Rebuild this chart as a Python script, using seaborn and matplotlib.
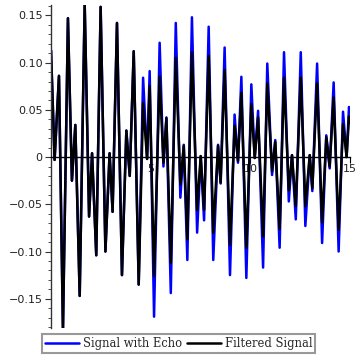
import matplotlib
matplotlib.use("Agg")
import matplotlib.pyplot as plt
import seaborn as sns
import pandas as pd
from matplotlib.ticker import FixedLocator, FuncFormatter, MultipleLocator

# Extrema (time, value)
t = [0.00, 0.18, 0.40, 0.60, 0.85, 1.05, 1.22, 1.44, 1.69, 1.91, 2.06, 2.27,
     2.49, 2.73, 2.94, 3.09, 3.31, 3.56, 3.78, 3.95, 4.15, 4.40, 4.62, 4.82,
     4.95, 5.17, 5.45, 5.64, 5.79, 6.01, 6.26, 6.49, 6.66, 6.84, 7.07, 7.33,
     7.51, 7.68, 7.91, 8.14, 8.38, 8.51, 8.71, 8.98, 9.21, 9.38, 9.55, 9.80,
     10.05, 10.22, 10.39, 10.64, 10.85, 11.09, 11.25, 11.47, 11.69, 11.93,
     12.09, 12.28, 12.53, 12.76, 12.98, 13.11, 13.35, 13.60, 13.81, 13.98,
     14.18, 14.43, 14.65, 14.83, 14.95, 15.00]

signal_with_echo = [0.113, -0.003, 0.086, -0.184, 0.147, -0.025, 0.034, -0.147,
                    0.162, -0.063, 0.004, -0.104, 0.159, -0.100, 0.004, -0.058,
                    0.142, -0.125, 0.028, -0.020, 0.112, -0.135, 0.084, -0.002,
                    0.091, -0.169, 0.121, -0.010, 0.042, -0.144, 0.142, -0.043,
                    0.013, -0.109, 0.148, -0.080, 0.001, -0.067, 0.138, -0.109,
                    0.013, -0.028, 0.116, -0.125, 0.045, -0.006, 0.085, -0.128,
                    0.077, -0.001, 0.049, -0.117, 0.099, -0.019, 0.018, -0.096,
                    0.111, -0.047, 0.002, -0.066, 0.111, -0.073, 0.002, -0.036,
                    0.099, -0.091, 0.023, -0.012, 0.079, -0.100, 0.048, 0.000,
                    0.053, 0.047]

filtered_signal = [0.113, -0.003, 0.086, -0.184, 0.147, -0.025, 0.034, -0.147,
                   0.162, -0.063, 0.004, -0.104, 0.159, -0.100, 0.004, -0.058,
                   0.142, -0.125, 0.028, -0.020, 0.112, -0.135, 0.057, -0.002,
                   0.075, -0.126, 0.085, -0.006, 0.041, -0.112, 0.105, -0.029,
                   0.012, -0.087, 0.111, -0.056, 0.001, -0.056, 0.107, -0.080,
                   0.012, -0.027, 0.092, -0.093, 0.033, -0.004, 0.068, -0.096,
                   0.056, -0.001, 0.042, -0.084, 0.078, -0.015, 0.016, -0.076,
                   0.084, -0.035, 0.002, -0.052, 0.084, -0.052, 0.002, -0.033,
                   0.078, -0.069, 0.021, -0.010, 0.063, -0.077, 0.035, 0.000,
                   0.043, 0.037]

labels = ["Signal with Echo", "Filtered Signal"]
y_ticks = [-0.15, -0.10, -0.05, 0.0, 0.05, 0.10, 0.15]
x_ticks = [5, 10, 15]

df = pd.DataFrame({"t": t, "echo": signal_with_echo, "filt": filtered_signal})

sns.set_style("white")
plt.rcParams["font.family"] = ["DejaVu Sans"]

fig = plt.figure(figsize=(3.55, 3.55), dpi=100)
ax = fig.add_axes([51 / 355, 27 / 355, 299 / 355, 323 / 355])

line_kw = dict(lw=1.8, solid_joinstyle="round", solid_capstyle="round")
sns.lineplot(data=df, x="t", y="echo", color="#0000ff", ax=ax,
             sort=False, estimator=None, label=labels[0], legend=False, **line_kw)
sns.lineplot(data=df, x="t", y="filt", color="black", ax=ax,
             sort=False, estimator=None, label=labels[1], legend=False, **line_kw)

ax.set_xlim(0, 15)
ax.set_ylim(-0.181, 0.161)
ax.set_xlabel("")
ax.set_ylabel("")

for s in ["top", "right"]:
    ax.spines[s].set_visible(False)
ax.spines["bottom"].set_position(("data", 0))
ax.spines["left"].set_color("#333333")
ax.spines["bottom"].set_color("black")
ax.spines["left"].set_linewidth(1.0)
ax.spines["bottom"].set_linewidth(1.0)

ax.yaxis.set_major_locator(FixedLocator(y_ticks))
ax.yaxis.set_minor_locator(MultipleLocator(0.01))
ax.yaxis.set_major_formatter(FuncFormatter(
    lambda v, p: "0" if abs(v) < 1e-9 else ("%.2f" % v).replace("-", "\u2212")))
ax.xaxis.set_major_locator(FixedLocator(x_ticks))
ax.xaxis.set_major_formatter(FuncFormatter(lambda v, p: "%d" % v))

ax.tick_params(axis="y", which="major", length=4, width=0.8, color="#333333",
               labelsize=8, labelcolor="#222222", pad=2, left=True)
ax.tick_params(axis="y", which="minor", length=2, width=0.6, color="#333333", left=True)
ax.tick_params(axis="x", which="major", length=4, width=0.8, color="black",
               labelsize=8, labelcolor="#222222", pad=1, bottom=True)

handles = ax.get_lines()[:2]
leg = fig.legend(handles, labels, loc="lower center",
                 bbox_to_anchor=(178.5 / 355, 2 / 355), ncol=2,
                 frameon=True, fancybox=False, edgecolor="#808080",
                 prop={"family": "DejaVu Serif", "size": 8.3},
                 handlelength=3.0, handletextpad=0.3, columnspacing=0.4,
                 borderpad=0.25, borderaxespad=0)
leg.get_frame().set_linewidth(1.5)

fig.savefig("out.png", dpi=100)
